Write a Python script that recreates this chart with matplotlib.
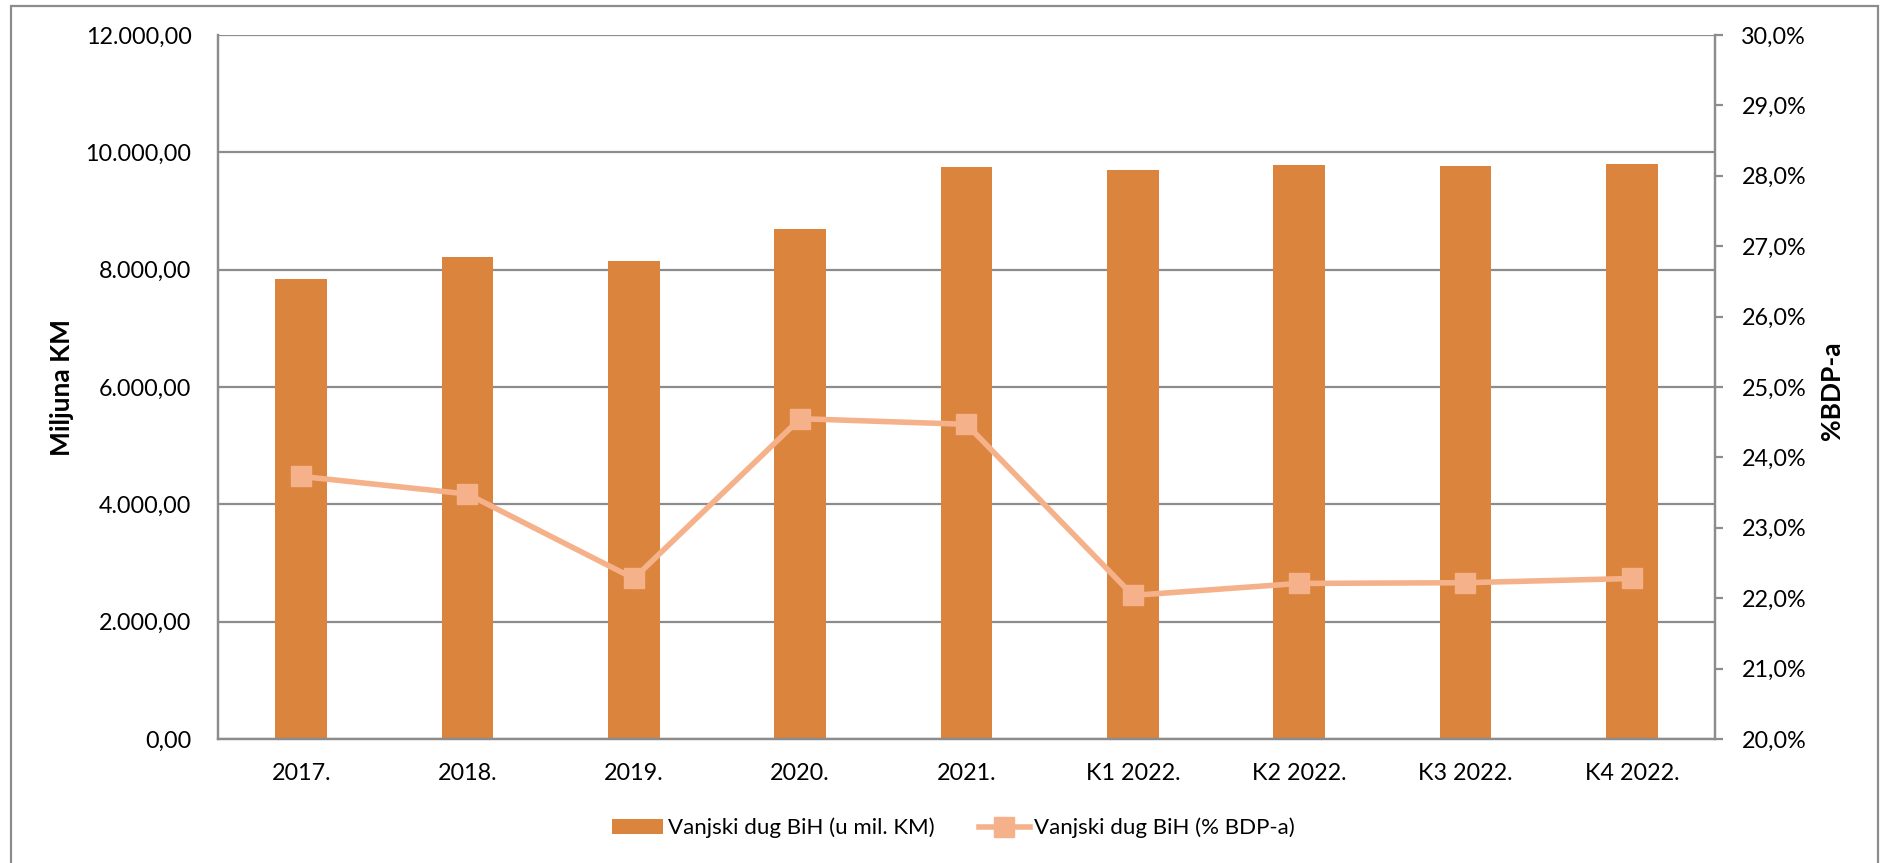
import matplotlib
matplotlib.use("Agg")
import matplotlib.pyplot as plt
from matplotlib.patches import Rectangle, Patch
from matplotlib.lines import Line2D
from matplotlib.ticker import FuncFormatter, MultipleLocator

plt.rcParams["font.family"] = ["Lato", "DejaVu Sans"]

categories = ["2017.", "2018.", "2019.", "2020.", "2021.",
              "K1 2022.", "K2 2022.", "K3 2022.", "K4 2022."]
debt_mil_km = [7846, 8210, 8150, 8700, 9745, 9705, 9780, 9775, 9805]
debt_pct_gdp = [23.73, 23.48, 22.28, 24.55, 24.47, 22.04, 22.21, 22.22, 22.28]

BAR_COLOR = "#DB843E"
LINE_COLOR = "#F5B28A"
GRID_COLOR = "#8C8C8C"


def km_fmt(v, _pos):
    s = f"{v:,.2f}"
    return s.replace(",", "#").replace(".", ",").replace("#", ".")


def pct_fmt(v, _pos):
    return f"{v:.1f}%".replace(".", ",")


fig = plt.figure(figsize=(18.81, 8.63), dpi=100)
ax = fig.add_axes([218 / 1881, 1 - 739 / 863, (1715 - 218) / 1881, (739 - 35) / 863])
ax2 = ax.twinx()

x = range(len(categories))
ax.bar(x, debt_mil_km, width=0.31, color=BAR_COLOR, zorder=2)
ax2.plot(x, debt_pct_gdp, color=LINE_COLOR, lw=4, marker="s", markersize=14,
         zorder=3)

ax.set_xlim(-0.5, len(categories) - 0.5)
ax.set_ylim(0, 12000)
ax.yaxis.set_major_locator(MultipleLocator(2000))
ax.yaxis.set_major_formatter(FuncFormatter(km_fmt))
ax.grid(axis="y", color=GRID_COLOR, lw=1.6, zorder=0)
ax.set_axisbelow(True)
ax.set_xticks(list(x))
ax.set_xticklabels(categories)
ax.tick_params(axis="x", length=0, pad=17, labelsize=16.8)
ax.tick_params(axis="y", length=0, pad=19, labelsize=16.8)

ax2.set_ylim(20, 30)
ax2.yaxis.set_major_locator(MultipleLocator(1))
ax2.yaxis.set_major_formatter(FuncFormatter(pct_fmt))
ax2.tick_params(axis="y", length=6, width=1.6, color=GRID_COLOR, pad=13,
                labelsize=16.8)

for a in (ax, ax2):
    a.spines["top"].set_visible(False)
    for side in ("left", "right", "bottom"):
        a.spines[side].set_color(GRID_COLOR)
        a.spines[side].set_linewidth(1.6)

ax.set_ylabel("Miljuna KM", fontsize=19, fontweight="bold")
ax.yaxis.label.set_va("center")
ax.yaxis.set_label_coords((62 - 218) / 1497, 0.5)
ax2.set_ylabel("%BDP-a", fontsize=19, fontweight="bold", rotation=90)
ax2.yaxis.label.set_va("center")
ax2.yaxis.set_label_coords((1832 - 218) / 1497, 0.495)

handles = [
    Patch(facecolor=BAR_COLOR, edgecolor="none"),
    Line2D([0], [0], color=LINE_COLOR, lw=4, marker="s", markersize=14),
]
labels = ["Vanjski dug BiH (u mil. KM)", "Vanjski dug BiH (% BDP-a)"]
fig.legend(handles, labels, loc="center", bbox_to_anchor=(0.507, 1 - 828 / 863),
           ncol=2, frameon=False, fontsize=16, handlelength=2.3,
           handletextpad=0.2, columnspacing=2.0, handleheight=0.6)

fig.patches.append(Rectangle((11 / 1881, -0.05), (1878 - 11) / 1881, 1.05 - 6 / 863,
                             transform=fig.transFigure, fill=False,
                             edgecolor=GRID_COLOR, lw=1.6))

fig.savefig("out.png", dpi=100)
